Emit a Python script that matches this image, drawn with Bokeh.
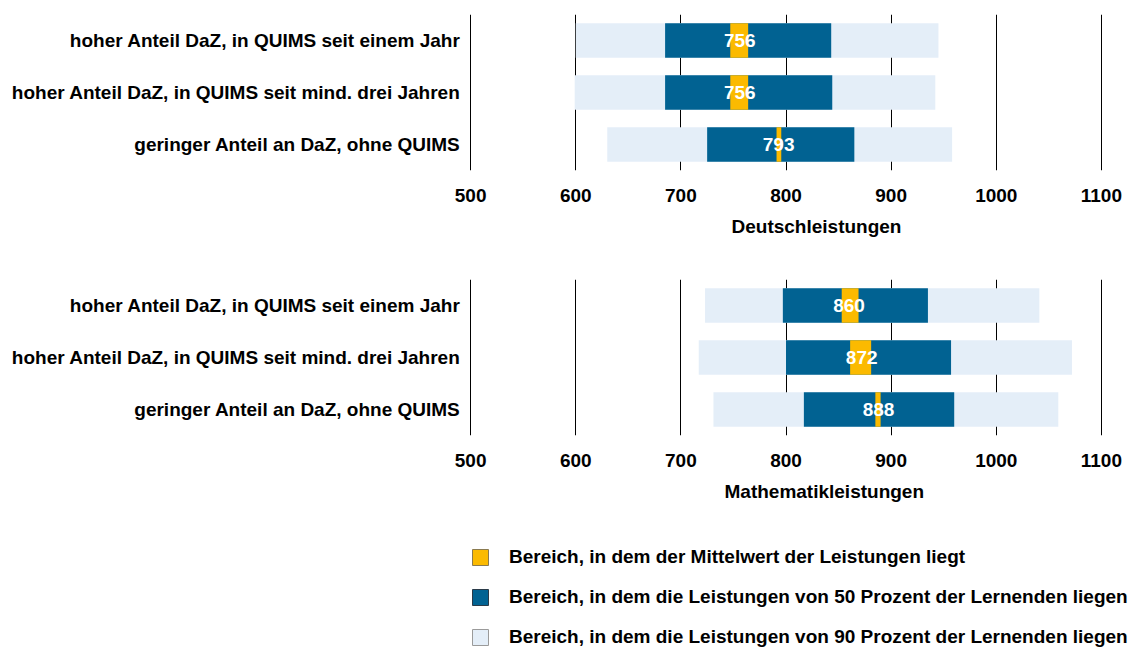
from bokeh.plotting import figure
from bokeh.models import Range1d, FactorRange, FixedTicker, Legend, LegendItem, ColumnDataSource, Title
from bokeh.core.properties import value
from bokeh.layouts import column
from bokeh.embed import file_html
from bokeh.resources import INLINE

groups = ["hoher Anteil DaZ, in QUIMS seit einem Jahr",
          "hoher Anteil DaZ, in QUIMS seit mind. drei Jahren",
          "geringer Anteil an DaZ, ohne QUIMS"]
ticks = [500, 600, 700, 800, 900, 1000, 1100]

de_p5 = [600, 599, 630]
de_p95 = [945, 942, 958]
de_p25 = [685, 685, 725]
de_p75 = [843, 844, 865]
de_ci_lo = [747, 747, 791]
de_ci_hi = [764, 764, 795.5]
de_mean = [756, 756, 793]

ma_p5 = [723, 717, 731]
ma_p95 = [1041, 1072, 1059]
ma_p25 = [797, 800, 817]
ma_p75 = [935, 957, 960]
ma_ci_lo = [853, 861, 885]
ma_ci_hi = [869, 881, 890]
ma_mean = [860, 872, 888]

leg_labels = ["Bereich, in dem der Mittelwert der Leistungen liegt",
              "Bereich, in dem die Leistungen von 50 Prozent der Lernenden liegen",
              "Bereich, in dem die Leistungen von 90 Prozent der Lernenden liegen"]

C_LIGHT = "#e4eef8"
C_DARK = "#016292"
C_YEL = "#fbba00"
FONT = "Liberation Sans"
FS = "19px"


def make_src(p5, p95, p25, p75, lo, hi, mean):
    return ColumnDataSource(dict(g=groups, p5=p5, p95=p95, p25=p25, p75=p75,
                                 lo=lo, hi=hi, mean=mean,
                                 lab=[str(m) for m in mean]))


def make_panel(title, title_offset, src, top_border):
    p = figure(y_range=FactorRange(*groups[::-1]), x_range=Range1d(498, 1102),
               frame_width=635, frame_height=156, output_backend="svg",
               toolbar_location=None, min_border_left=468, min_border_right=23,
               min_border_top=top_border, min_border_bottom=80)
    p.hbar(y="g", left="p5", right="p95", height=0.66, source=src,
           fill_color=C_LIGHT, line_color=None)
    p.hbar(y="g", left="p25", right="p75", height=0.66, source=src,
           fill_color=C_DARK, line_color=None)
    p.hbar(y="g", left="lo", right="hi", height=0.66, source=src,
           fill_color=C_YEL, line_color=None)
    p.text(x="mean", y="g", text="lab", source=src, text_align="center",
           text_baseline="middle", text_color="white", text_font_size=FS,
           text_font_style="bold", text_font=value(FONT))
    p.outline_line_color = None
    p.ygrid.grid_line_color = None
    p.xgrid.ticker = FixedTicker(ticks=ticks)
    p.xgrid.grid_line_color = "black"
    p.xgrid.grid_line_width = 1
    p.xaxis.ticker = FixedTicker(ticks=ticks)
    p.xaxis.axis_line_color = None
    p.xaxis.major_tick_line_color = None
    p.xaxis.minor_tick_line_color = None
    p.xaxis.major_tick_out = 0
    p.xaxis.major_label_standoff = 18
    p.xaxis.major_label_text_font = FONT
    p.xaxis.major_label_text_font_style = "bold"
    p.xaxis.major_label_text_font_size = FS
    p.xaxis.major_label_text_color = "black"
    t = Title(text=title, align="left", offset=title_offset, standoff=19,
              text_font=FONT, text_font_style="bold", text_font_size=FS,
              text_color="black")
    p.add_layout(t, "below")
    p.yaxis.axis_line_color = None
    p.yaxis.major_tick_line_color = None
    p.yaxis.major_tick_out = 0
    p.yaxis.major_label_standoff = 8
    p.yaxis.major_label_text_font = FONT
    p.yaxis.major_label_text_font_style = "bold"
    p.yaxis.major_label_text_font_size = FS
    p.yaxis.major_label_text_color = "black"
    return p


src_de = make_src(de_p5, de_p95, de_p25, de_p75, de_ci_lo, de_ci_hi, de_mean)
src_ma = make_src(ma_p5, ma_p95, ma_p25, ma_p75, ma_ci_lo, ma_ci_hi, ma_mean)
p1 = make_panel("Deutschleistungen", 263, src_de, 14)
p2 = make_panel("Mathematikleistungen", 256, src_ma, 29)

# legend panel: hidden sample renderers, only the legend entries are drawn
pl = figure(frame_width=666, frame_height=135, y_range=FactorRange(*groups[::-1]),
            output_backend="svg", toolbar_location=None, min_border_left=468,
            min_border_right=0, min_border_top=0, min_border_bottom=0)
pl.axis.visible = False
pl.grid.visible = False
pl.outline_line_color = None
r_y = pl.hbar(y="g", left="lo", right="hi", height=0.66, source=src_de,
              fill_color=C_YEL, line_color="#8a7a50", line_width=1, visible=False)
r_d = pl.hbar(y="g", left="p25", right="p75", height=0.66, source=src_de,
              fill_color=C_DARK, line_color="#2a3a48", line_width=1, visible=False)
r_l = pl.hbar(y="g", left="p5", right="p95", height=0.66, source=src_de,
              fill_color=C_LIGHT, line_color="#9a9a9a", line_width=1, visible=False)
items = [LegendItem(label=leg_labels[0], renderers=[r_y]),
         LegendItem(label=leg_labels[1], renderers=[r_d]),
         LegendItem(label=leg_labels[2], renderers=[r_l])]
legend = Legend(items=items, location=(2, 2), glyph_width=20, glyph_height=20,
                label_height=20, spacing=18, label_standoff=19, padding=0, margin=0,
                border_line_color=None, background_fill_alpha=0,
                inactive_fill_alpha=0,
                label_text_font=FONT, label_text_font_style="bold",
                label_text_font_size=FS, label_text_color="black")
pl.add_layout(legend, "center")

layout = column(p1, p2, pl, spacing=0)
open("out.html", "w").write(file_html(layout, INLINE))
